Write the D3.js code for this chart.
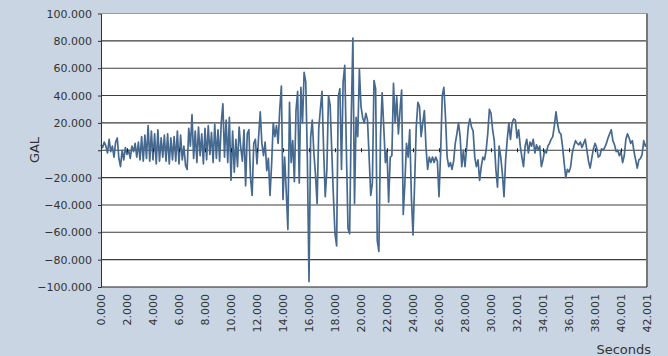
<!DOCTYPE html>
<html>
<head>
<meta charset="utf-8">
<script src="https://cdn.jsdelivr.net/npm/d3@7"></script>
<style>
  html, body { margin: 0; padding: 0; background: #c9d5e2; }
  svg { display: block; }
</style>
</head>
<body>
<svg id="chart" width="668" height="356"></svg>
<script>
// sample step of the record, seconds
const dt = 0.125;

// acceleration (GAL) in pieces
const gal0to7 = [4, 2, 6, 3, -2, 8, -1, 3, -5, 6, 9, -6, -12, 0, -7, 2, -3, 0, -6, 3, -1, 5, -5, 6, -7, 10, -8, 11, -6, 18, -8, 14, -7, 12, -10, 15, -8, 9, -5, 11, -8, 12, -10, 9, -7, 10, -8, 14, -10, 11, -7, 3, -11, -14, 16, 3];
const gal7to14 = [26, -6, 14, -9, 17, -4, 12, -10, 16, -7, 18, -3, 13, -9, 19, -6, 15, -8, 20, 34, -5, 22, -9, 24, -22, 14, -16, 8, -12, 17, 2, -8, 15, -26, 12, 15, -20, -33, 5, 8, -10, 10, 28, 5, -4, 6, -15, -6, -33, -10, 20, 10, 18, 5, 30, 47];
const gal14to21 = [-36, -5, -30, -58, 35, -9, 7, -23, 29, 43, -24, 46, 20, 57, 50, -7, -96, 9, 22, -2, -18, -39, 16, 30, 43, 0, -34, -14, 40, 33, 0, -33, -61, -70, 39, 45, -14, 50, 62, 0, -57, -61, 24, 82, -39, 24, 10, 59, 32, 24, 20, 27, 22, -5, -33, -24];
const gal21to27 = [51, 45, -66, -74, 10, 42, 17, -9, 0, -38, -5, -4, 49, 20, 39, 12, 29, 44, -47, -24, 5, -5, 15, -34, -62, -24, 17, 35, 32, 10, 20, 29, 2, -14, -5, -9, -5, -9, -5, -8, -34, -2, 40, 46, 24, -5, -12, -9, -14, -8, 5, 12, 20];
const gal27to34 = [10, -12, 0, -12, 2, 17, 23, 17, 14, -5, -12, -7, -22, -12, -5, -7, 0, 12, 30, 27, 15, 7, -14, -27, 3, -5, -17, -34, -7, 8, 20, 8, 20, 23, 22, 9, 15, 3, -5, -12, 3, 8, -2, 6, 3, 8, -2, 4, 0, 3, -12, -7, 0, -2, 3, 5, 8];
const gal34to42 = [10, 18, 28, 19, 13, 12, 3, -9, -20, -14, -16, -12, -2, 3, 7, 5, 4, 6, 2, 5, 8, 0, -8, -13, -6, 1, 5, 2, -5, -4, 1, 0, 2, 5, 9, 12, 15, 7, 4, -1, 0, -4, -1, -9, -4, 8, 12, 9, 5, 7, -1, -7, -13, -7, -6, -3, 7, 3, 5];

const gal = [].concat(gal0to7, gal7to14, gal14to21, gal21to27, gal27to34, gal34to42);

const yTicks = [-100, -80, -60, -40, -20, 0, 20, 40, 60, 80, 100];
const xTickLabels = ['0.000', '2.000', '4.000', '6.000', '8.000', '10.000', '12.000', '14.000',
  '16.000', '18.000', '20.000', '22.000', '24.000', '26.000', '28.000', '30.000',
  '32.001', '34.001', '36.001', '38.001', '40.001', '42.001'];

const W = 668, H = 356;
const plot = { left: 101, right: 647, top: 13.5, bottom: 287 };
const font = "'DejaVu Sans', Verdana, sans-serif";

const svg = d3.select('#chart');

const x = d3.scaleLinear().domain([0, 42]).range([plot.left, plot.right]);
const y = d3.scaleLinear().domain([-100, 100]).range([plot.bottom, plot.top]);

svg.append('rect').attr('width', W).attr('height', H).attr('fill', '#c9d5e2');

svg.append('rect')
  .attr('x', plot.left).attr('y', plot.top)
  .attr('width', plot.right - plot.left).attr('height', plot.bottom - plot.top)
  .attr('fill', '#fff');

// horizontal gridlines
svg.append('g')
  .selectAll('line')
  .data(yTicks.filter(v => v > -100 && v < 100))
  .join('line')
  .attr('x1', plot.left).attr('x2', plot.right)
  .attr('y1', d => y(d)).attr('y2', d => y(d))
  .attr('stroke', '#3c3c3c')
  .attr('stroke-width', 1.1);

// the record
const line = d3.line()
  .x((d, i) => x(i * dt))
  .y(d => y(d));

svg.append('path')
  .datum(gal)
  .attr('d', line)
  .attr('fill', 'none')
  .attr('stroke', '#46698f')
  .attr('stroke-width', 1.7)
  .attr('stroke-linejoin', 'round');

// small tick marks on the zero line
const tickTimes = xTickLabels.map((_, i) => i * 2);
const zeroAxis = svg.append('g')
  .attr('transform', `translate(0,${y(0) - 2})`)
  .call(d3.axisBottom(x).tickValues(tickTimes).tickSize(4).tickSizeOuter(0).tickFormat(''));
zeroAxis.select('.domain').remove();
zeroAxis.selectAll('.tick line').attr('stroke', '#222');

// plot frame
svg.append('line').attr('x1', plot.left).attr('x2', plot.right)
  .attr('y1', plot.top).attr('y2', plot.top).attr('stroke', '#9a9a9a');
svg.append('line').attr('x1', plot.right).attr('x2', plot.right)
  .attr('y1', plot.top).attr('y2', plot.bottom).attr('stroke', '#777').attr('stroke-width', 2);
svg.append('line').attr('x1', plot.left).attr('x2', plot.right)
  .attr('y1', plot.bottom).attr('y2', plot.bottom).attr('stroke', '#222');

// y axis
const yAxis = svg.append('g')
  .attr('transform', `translate(${plot.left},0)`)
  .call(d3.axisLeft(y)
    .tickValues(yTicks)
    .tickSize(3)
    .tickSizeOuter(0)
    .tickPadding(6)
    .tickFormat(d => d === 0 ? '' : d3.format('.3f')(d)));
yAxis.select('.domain').attr('stroke', '#333');
yAxis.selectAll('.tick line').attr('stroke', '#333');
yAxis.selectAll('text')
  .attr('fill', '#333')
  .style('font-family', font)
  .style('font-size', '11px');

// x labels, rotated, below the plot
const xAxis = svg.append('g')
  .attr('transform', `translate(0,${plot.bottom})`)
  .call(d3.axisBottom(x).tickValues(tickTimes).tickSize(0).tickFormat((d, i) => xTickLabels[i]));
xAxis.select('.domain').remove();
xAxis.selectAll('text')
  .attr('transform', 'rotate(-90)')
  .attr('text-anchor', 'end')
  .attr('x', -7)
  .attr('y', 0)
  .attr('dy', '0.36em')
  .attr('fill', '#333')
  .style('font-family', font)
  .style('font-size', '11px');

// axis titles
svg.append('text')
  .attr('transform', 'translate(39,150) rotate(-90)')
  .attr('text-anchor', 'middle')
  .attr('fill', '#333')
  .style('font-family', font)
  .style('font-size', '13px')
  .text('GAL');

svg.append('text')
  .attr('x', 651).attr('y', 354)
  .attr('text-anchor', 'end')
  .attr('fill', '#333')
  .style('font-family', font)
  .style('font-size', '13px')
  .text('Seconds');
</script>
</body>
</html>
